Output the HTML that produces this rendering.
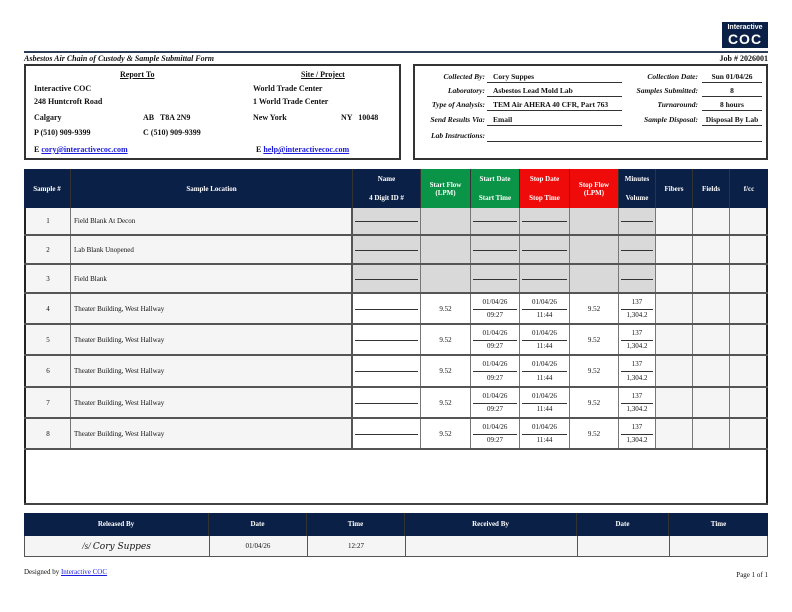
<!DOCTYPE html>
<html><head><meta charset="utf-8"><style>
*{margin:0;padding:0;box-sizing:border-box}
body{width:792px;height:612px;background:#fff;position:relative;overflow:hidden;font-family:"Liberation Serif",serif;color:#111}
.a{position:absolute}
.b{font-weight:bold}
.i{font-style:italic}
.lb{font-size:7.5px;font-weight:bold;font-style:italic;text-align:right;width:120px}
.v{font-size:7.5px;font-weight:bold;border-bottom:1px solid #333;height:11px;line-height:10px}
.l{font-size:8px;font-weight:bold}
.r{position:absolute;left:24px;width:744px}
.c{position:absolute;top:0;height:100%;border-right:1px solid #777;font-size:7px;display:flex;align-items:center;justify-content:center}
.c0{left:0px;width:47px;background:#f5f5f5;border-left:2px solid #222}
.c1{left:47px;width:282px;background:#f5f5f5;justify-content:flex-start;padding-left:3px;border-right:2px solid #555}
.c2{left:329px;width:68px}.c3{left:397px;width:50px}.c4{left:447px;width:49px}.c5{left:496px;width:50px}
.c6{left:546px;width:49px}.c7{left:595px;width:37px}.c8{left:632px;width:37px;background:#f5f5f5}
.c9{left:669px;width:37px;background:#f5f5f5}.c10{left:706px;width:38px;background:#f5f5f5;border-right:2px solid #222}
.g .c2,.g .c3,.g .c4,.g .c5,.g .c6,.g .c7{background:#d9d9d9}
.ln::after{content:"";position:absolute;left:2px;right:2px;top:50%;border-top:1px solid #333}
.tt,.bb{position:absolute;left:0;right:0;text-align:center;font-size:7px}
.tt{top:4px}.bb{bottom:4px}
.h{position:absolute;top:0;height:100%;color:#fff;font-weight:bold;font-size:7px;text-align:center;border-right:1px solid #333}
.gr{background:#0a9447}.rd{background:#f00b0b}
</style></head><body>
<!-- logo -->
<div class="a" style="left:722px;top:22px;width:46px;height:26px;background:#0b2046;color:#fff;text-align:center;font-family:'Liberation Sans',sans-serif">
<div style="font-size:7px;font-weight:bold;line-height:9px;margin-top:1px">Interactive</div>
<div style="font-size:14px;font-weight:bold;line-height:14px;letter-spacing:1px">COC</div></div>
<div class="a" style="left:24px;top:51px;width:744px;height:2px;background:#2c3e55"></div>
<div class="a b i" style="left:24px;top:54px;font-size:8px">Asbestos Air Chain of Custody &amp; Sample Submittal Form</div>
<div class="a b" style="right:24px;top:54px;font-size:8px">Job # 2026001</div>
<!-- left box -->
<div class="a" style="left:24px;top:64px;width:377px;height:96px;border:2px solid #333"></div>
<div class="a l" style="left:120px;top:70px;text-decoration:underline">Report To</div>
<div class="a l" style="left:301px;top:70px;text-decoration:underline">Site / Project</div>
<div class="a l" style="left:34px;top:84px">Interactive COC</div>
<div class="a l" style="left:34px;top:97px">248 Huntcroft Road</div>
<div class="a l" style="left:34px;top:113px">Calgary</div>
<div class="a l" style="left:143px;top:113px">AB &nbsp; T8A 2N9</div>
<div class="a l" style="left:34px;top:128px">P (510) 909-9399</div>
<div class="a l" style="left:143px;top:128px">C (510) 909-9399</div>
<div class="a l" style="left:34px;top:145px">E <span style="color:#1a1adb;text-decoration:underline">cory@interactivecoc.com</span></div>
<div class="a l" style="left:253px;top:84px">World Trade Center</div>
<div class="a l" style="left:253px;top:97px">1 World Trade Center</div>
<div class="a l" style="left:253px;top:113px">New York</div>
<div class="a l" style="left:341px;top:113px">NY &nbsp; 10048</div>
<div class="a l" style="left:256px;top:145px">E <span style="color:#1a1adb;text-decoration:underline">help@interactivecoc.com</span></div>
<!-- right box -->
<div class="a" style="left:413px;top:64px;width:355px;height:96px;border:2px solid #333"></div>
<div class="a lb" style="left:365px;top:72px">Collected By:</div>
<div class="a lb" style="left:365px;top:86px">Laboratory:</div>
<div class="a lb" style="left:365px;top:100px">Type of Analysis:</div>
<div class="a lb" style="left:365px;top:115px">Send Results Via:</div>
<div class="a lb" style="left:365px;top:131px">Lab Instructions:</div>
<div class="a v" style="left:487px;top:72px;width:135px;padding-left:6px">Cory Suppes</div>
<div class="a v" style="left:487px;top:86px;width:135px;padding-left:6px">Asbestos Lead Mold Lab</div>
<div class="a v" style="left:487px;top:100px;width:135px;padding-left:6px">TEM Air AHERA 40 CFR, Part 763</div>
<div class="a v" style="left:487px;top:115px;width:135px;padding-left:6px">Email</div>
<div class="a v" style="left:487px;top:131px;width:275px"></div>
<div class="a lb" style="left:578px;top:72px">Collection Date:</div>
<div class="a lb" style="left:578px;top:86px">Samples Submitted:</div>
<div class="a lb" style="left:578px;top:100px">Turnaround:</div>
<div class="a lb" style="left:578px;top:115px">Sample Disposal:</div>
<div class="a v" style="left:702px;top:72px;width:60px;text-align:center">Sun 01/04/26</div>
<div class="a v" style="left:702px;top:86px;width:60px;text-align:center">8</div>
<div class="a v" style="left:702px;top:100px;width:60px;text-align:center">8 hours</div>
<div class="a v" style="left:702px;top:115px;width:60px;text-align:center">Disposal By Lab</div>
<!-- main table -->
<div class="a" style="left:24px;top:169px;width:744px;height:336px;border:2px solid #222;border-top:none"></div>
<div class="r" style="top:169px;height:39px;background:#0b2046">
<div class="h c0" style="display:flex;align-items:center;justify-content:center;background:none;border-left:none">Sample #</div>
<div class="h c1" style="display:flex;align-items:center;justify-content:center;background:none;padding:0">Sample Location</div>
<div class="h c2" style="background:none"><div class="tt" style="top:6px">Name</div><div class="bb" style="bottom:6px">4 Digit ID #</div></div>
<div class="h c3 gr" style="display:flex;align-items:center;justify-content:center;line-height:8px">Start Flow<br>(LPM)</div>
<div class="h c4 gr"><div class="tt" style="top:6px">Start Date</div><div class="bb" style="bottom:6px">Start Time</div></div>
<div class="h c5 rd"><div class="tt" style="top:6px">Stop Date</div><div class="bb" style="bottom:6px">Stop Time</div></div>
<div class="h c6 rd" style="display:flex;align-items:center;justify-content:center;line-height:8px">Stop Flow<br>(LPM)</div>
<div class="h c7" style="background:none"><div class="tt" style="top:6px">Minutes</div><div class="bb" style="bottom:6px">Volume</div></div>
<div class="h c8" style="display:flex;align-items:center;justify-content:center;background:none">Fibers</div>
<div class="h c9" style="display:flex;align-items:center;justify-content:center;background:none">Fields</div>
<div class="h c10" style="display:flex;align-items:center;justify-content:center;background:none;border-right:none">f/cc</div>
</div>
<!-- blank rows -->
<div class="r g" style="top:208px;height:28px;border-bottom:2px solid #555"><div class="c c0">1</div><div class="c c1">Field Blank At Decon</div><div class="c c2 ln"></div><div class="c c3"></div><div class="c c4 ln"></div><div class="c c5 ln"></div><div class="c c6"></div><div class="c c7 ln"></div><div class="c c8"></div><div class="c c9"></div><div class="c c10"></div></div>
<div class="r g" style="top:236px;height:29px;border-bottom:2px solid #555"><div class="c c0">2</div><div class="c c1">Lab Blank Unopened</div><div class="c c2 ln"></div><div class="c c3"></div><div class="c c4 ln"></div><div class="c c5 ln"></div><div class="c c6"></div><div class="c c7 ln"></div><div class="c c8"></div><div class="c c9"></div><div class="c c10"></div></div>
<div class="r g" style="top:265px;height:29px;border-bottom:2px solid #555"><div class="c c0">3</div><div class="c c1">Field Blank</div><div class="c c2 ln"></div><div class="c c3"></div><div class="c c4 ln"></div><div class="c c5 ln"></div><div class="c c6"></div><div class="c c7 ln"></div><div class="c c8"></div><div class="c c9"></div><div class="c c10"></div></div>
<!-- data rows -->
<div class="r" style="top:294px;height:31px;border-bottom:2px solid #555"><div class="c c0">4</div><div class="c c1">Theater Building, West Hallway</div><div class="c c2 ln"></div><div class="c c3">9.52</div><div class="c c4 ln"><div class="tt">01/04/26</div><div class="bb">09:27</div></div><div class="c c5 ln"><div class="tt">01/04/26</div><div class="bb">11:44</div></div><div class="c c6">9.52</div><div class="c c7 ln"><div class="tt">137</div><div class="bb">1,304.2</div></div><div class="c c8"></div><div class="c c9"></div><div class="c c10"></div></div>
<div class="r" style="top:325px;height:31px;border-bottom:2px solid #555"><div class="c c0">5</div><div class="c c1">Theater Building, West Hallway</div><div class="c c2 ln"></div><div class="c c3">9.52</div><div class="c c4 ln"><div class="tt">01/04/26</div><div class="bb">09:27</div></div><div class="c c5 ln"><div class="tt">01/04/26</div><div class="bb">11:44</div></div><div class="c c6">9.52</div><div class="c c7 ln"><div class="tt">137</div><div class="bb">1,304.2</div></div><div class="c c8"></div><div class="c c9"></div><div class="c c10"></div></div>
<div class="r" style="top:356px;height:32px;border-bottom:2px solid #555"><div class="c c0">6</div><div class="c c1">Theater Building, West Hallway</div><div class="c c2 ln"></div><div class="c c3">9.52</div><div class="c c4 ln"><div class="tt">01/04/26</div><div class="bb">09:27</div></div><div class="c c5 ln"><div class="tt">01/04/26</div><div class="bb">11:44</div></div><div class="c c6">9.52</div><div class="c c7 ln"><div class="tt">137</div><div class="bb">1,304.2</div></div><div class="c c8"></div><div class="c c9"></div><div class="c c10"></div></div>
<div class="r" style="top:388px;height:31px;border-bottom:2px solid #555"><div class="c c0">7</div><div class="c c1">Theater Building, West Hallway</div><div class="c c2 ln"></div><div class="c c3">9.52</div><div class="c c4 ln"><div class="tt">01/04/26</div><div class="bb">09:27</div></div><div class="c c5 ln"><div class="tt">01/04/26</div><div class="bb">11:44</div></div><div class="c c6">9.52</div><div class="c c7 ln"><div class="tt">137</div><div class="bb">1,304.2</div></div><div class="c c8"></div><div class="c c9"></div><div class="c c10"></div></div>
<div class="r" style="top:419px;height:31px;border-bottom:2px solid #555"><div class="c c0">8</div><div class="c c1">Theater Building, West Hallway</div><div class="c c2 ln"></div><div class="c c3">9.52</div><div class="c c4 ln"><div class="tt">01/04/26</div><div class="bb">09:27</div></div><div class="c c5 ln"><div class="tt">01/04/26</div><div class="bb">11:44</div></div><div class="c c6">9.52</div><div class="c c7 ln"><div class="tt">137</div><div class="bb">1,304.2</div></div><div class="c c8"></div><div class="c c9"></div><div class="c c10"></div></div>
<div class="a" style="left:24px;top:503px;width:744px;height:2px;background:#444"></div>
<!-- bottom table -->
<div class="a" style="left:24px;top:513px;width:744px;height:23px;background:#0b2046"></div>
<div class="a" style="left:24px;top:536px;width:744px;height:21px;background:#f5f5f5;border:1px solid #555;border-top:none"></div>
<div class="h" style="left:24px;top:513px;width:185px;height:23px;line-height:23px">Released By</div>
<div class="h" style="left:209px;top:513px;width:98px;height:23px;line-height:23px">Date</div>
<div class="h" style="left:307px;top:513px;width:98px;height:23px;line-height:23px">Time</div>
<div class="h" style="left:405px;top:513px;width:172px;height:23px;line-height:23px">Received By</div>
<div class="h" style="left:577px;top:513px;width:92px;height:23px;line-height:23px">Date</div>
<div class="h" style="left:669px;top:513px;width:99px;height:23px;line-height:23px;border:none">Time</div>
<div class="a" style="left:209px;top:536px;width:1px;height:21px;background:#555"></div>
<div class="a" style="left:307px;top:536px;width:1px;height:21px;background:#555"></div>
<div class="a" style="left:405px;top:536px;width:1px;height:21px;background:#555"></div>
<div class="a" style="left:577px;top:536px;width:1px;height:21px;background:#555"></div>
<div class="a" style="left:669px;top:536px;width:1px;height:21px;background:#555"></div>
<div class="a i" style="left:24px;top:536px;width:185px;height:21px;line-height:21px;text-align:center;font-size:9px">/s/ <span style="font-family:'DejaVu Serif',serif;font-style:italic">Cory Suppes</span></div>
<div class="a" style="left:209px;top:536px;width:98px;line-height:21px;text-align:center;font-size:7px">01/04/26</div>
<div class="a" style="left:307px;top:536px;width:98px;line-height:21px;text-align:center;font-size:7px">12:27</div>
<!-- footer -->
<div class="a" style="left:24px;top:568px;font-size:7px">Designed by <span style="color:#1a1adb;text-decoration:underline">Interactive COC</span></div>
<div class="a" style="right:24px;top:571px;font-size:7px">Page 1 of 1</div>
</body></html>
